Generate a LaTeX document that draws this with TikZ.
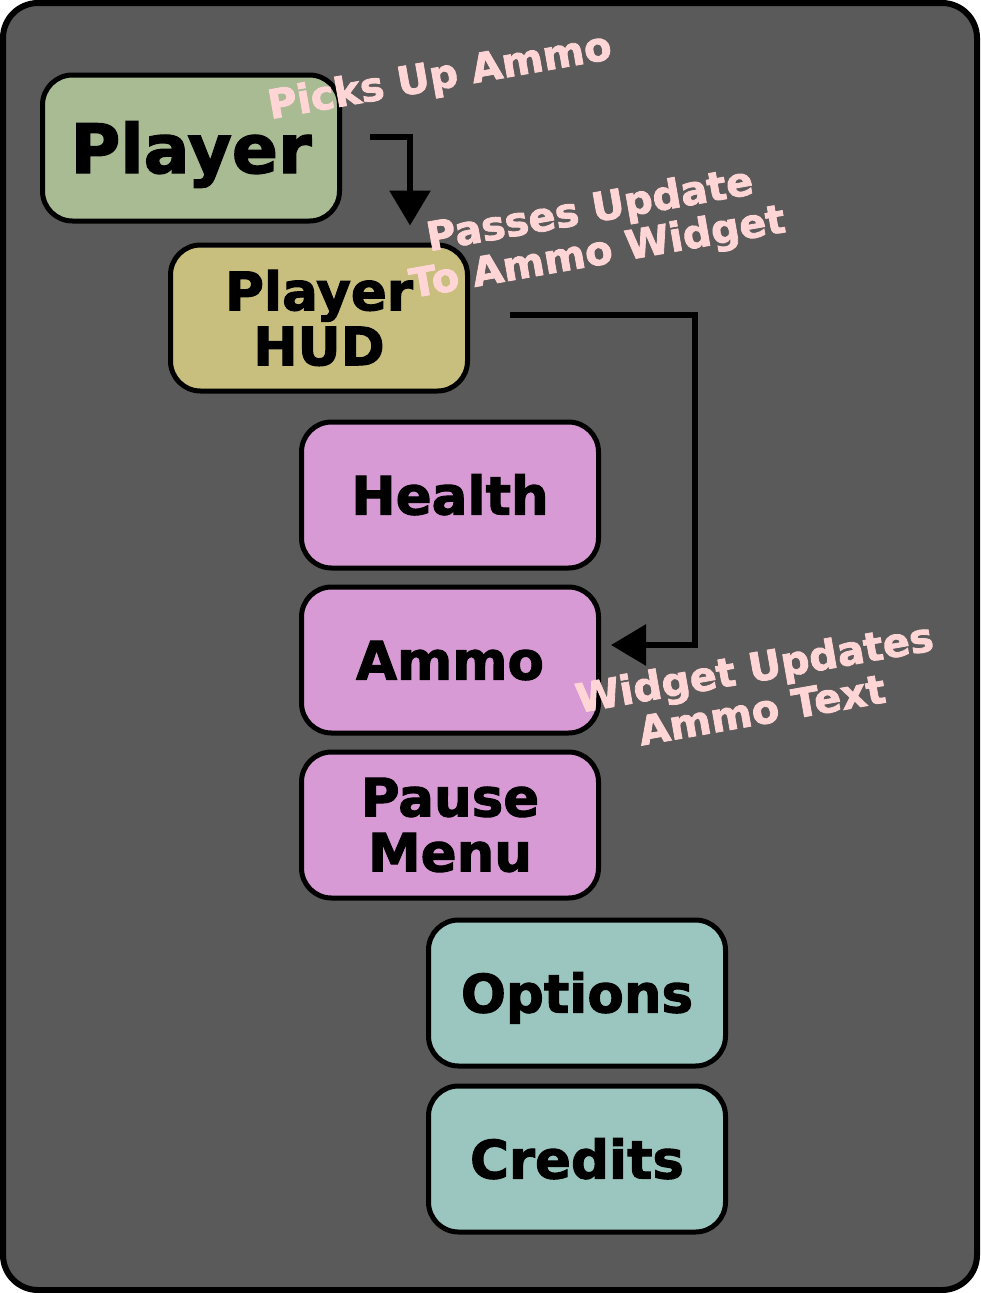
\documentclass[tikz,border=0pt]{standalone}
\usepackage{fontspec}
\setmainfont{DejaVu Sans}
\newfontfamily\heavyfont{DejaVu Sans Bold}[FakeBold=2]
\usetikzlibrary{arrows.meta}
\definecolor{framegray}{HTML}{5A5A5A}
\definecolor{playergreen}{HTML}{A8BB93}
\definecolor{hudyellow}{HTML}{C8BF7E}
\definecolor{widgetpink}{HTML}{D89AD4}
\definecolor{menuteal}{HTML}{9BC6BF}
\definecolor{notepink}{HTML}{FFD5D5}
\begin{document}
\begin{tikzpicture}[x=1pt,y=-1pt,
    box/.style={draw=black,line width=5pt,rounded corners=30pt,minimum width=297pt,minimum height=146pt,inner sep=0pt,align=center,font=\heavyfont\fontsize{53}{55}\selectfont},
    oneline/.style={text height=39pt,text depth=0pt},
    flow/.style={draw=black,line width=6pt,-{Triangle[length=35pt,width=40pt]}},
    note/.style={text=notepink,rotate=10,align=center,font=\heavyfont\fontsize{40}{43}\selectfont}]
    \useasboundingbox (0,0) rectangle (980,1293);
    \draw[draw=black,line width=6pt,fill=framegray,rounded corners=35pt] (3,3) rectangle (977,1290);
    % boxes
    \node[box,oneline,fill=playergreen,text height=50pt,font=\heavyfont\fontsize{68}{70}\selectfont] (player) at (191,148) {Player};
    \node[box,fill=hudyellow] (hud) at (319,318) {Player\\HUD};
    \node[box,oneline,fill=widgetpink] (health) at (450,495) {Health};
    \node[box,oneline,fill=widgetpink] (ammo) at (450,660) {Ammo};
    \node[box,fill=widgetpink] (pause) at (450,825) {Pause\\Menu};
    \node[box,oneline,fill=menuteal] (options) at (577,993) {Options};
    \node[box,oneline,fill=menuteal] (credits) at (577,1159) {Credits};
    % arrows
    \coordinate (bend) at (695,480);
    \draw[flow] ([xshift=28pt,yshift=11pt]player.east) -| ([xshift=91pt,yshift=17pt]hud.north);
    \draw[flow] ([xshift=40pt,yshift=3pt]hud.east) -| (bend) |- ([xshift=10pt,yshift=15pt]ammo.east);
    % labels
    \node[note] (pickup) at (440,78) {Picks Up Ammo};
    \node[note] (passes) at (594,233) {Passes Update\\To Ammo Widget};
    \node[note] (updates) at (758,688) {Widget Updates\\Ammo Text};
\end{tikzpicture}
\end{document}
